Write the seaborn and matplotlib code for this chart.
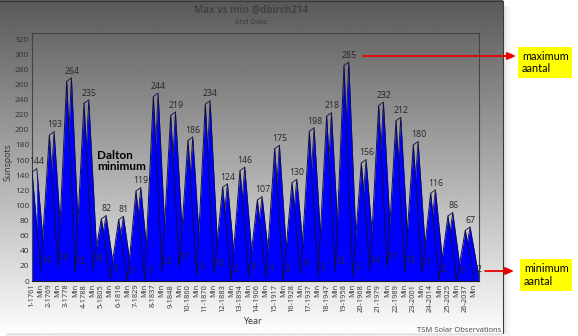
import numpy as np
import pandas as pd
import matplotlib
matplotlib.use("Agg")
import matplotlib.pyplot as plt
from matplotlib.patches import Rectangle
import seaborn as sns

# Solar cycle maxima (smoothed sunspot number) and the minimum that follows each
cycles = ["1-1761", "2-1769", "3-1778", "4-1788", "5-1805", "6-1816", "7-1829",
          "8-1837", "9-1848", "10-1860", "11-1870", "12-1883", "13-1894",
          "14-1906", "15-1917", "16-1928", "17-1937", "18-1947", "19-1958",
          "20-1968", "21-1979", "22-1989", "23-2001", "24-2014", "25-2025",
          "26-2037"]
max_values = [144, 193, 264, 235, 82, 81, 119, 244, 219, 186, 234, 124, 146,
              107, 175, 130, 198, 218, 285, 156, 232, 212, 180, 116, 86, 67]
min_values = [14, 18, 12, 16, 3, 0, 0, 12, 17, 6, 10, 2, 6,
              4, 2, 9, 5, 12, 5, 14, 17, 13, 11, 2, 0, 2]
y_ticks = list(range(0, 321, 20))

labels, values = [], []
for c, mx, mn in zip(cycles, max_values, min_values):
    labels += [c, "Min"]
    values += [mx, mn]
df = pd.DataFrame({"pos": np.arange(len(values)), "label": labels, "sunspots": values})

sns.set_style("white")
plt.rcParams["font.family"] = ["Open Sans", "DejaVu Sans"]

W, H = 578, 336
fig = plt.figure(figsize=(W / 100, H / 100), dpi=100)

# background layer in pixel coordinates
bg = fig.add_axes([0, 0, 1, 1])
bg.set_xlim(0, W)
bg.set_ylim(H, 0)
bg.axis("off")
# drop shadow of the chart panel
for i, a in enumerate([0.10, 0.07, 0.04, 0.02]):
    bg.add_patch(Rectangle((503 + i * 2, 6), 2, 333 - 6 + i * 2, color="black", alpha=a, lw=0))
    bg.add_patch(Rectangle((6, 333 + i * 2), 497 + i * 2, 2, color="black", alpha=a, lw=0))
grad = np.linspace(0.35, 0.99, 256).reshape(-1, 1)
bg.imshow(grad, cmap="gray", vmin=0, vmax=1, extent=[0, 503, 333, 0], aspect="auto", zorder=1)
bg.plot([0, 503, 503], [0.5, 0.5, 333], color="#3a3a3a", lw=0.8, zorder=2)

# main plot area
ax = fig.add_axes([32 / W, (H - 281) / H, (479 - 32) / W, (281 - 33) / H])
ax.patch.set_alpha(0)

x = df["pos"].to_numpy(dtype=float)
y = df["sunspots"].to_numpy(dtype=float)
dx, dy = 0.55, 4.5
blue = "#0000ff"
edge = "#101040"

# back face of the 3-D area, then the front face on top
ax.fill_between(x + dx, 0, y + dy, color=blue, lw=0, zorder=1)
ax.plot(x + dx, y + dy, color=edge, lw=0.6, zorder=1.5)
ax.fill_between(x, 0, y, color=blue, lw=0, zorder=2)
sns.lineplot(data=df, x="pos", y="sunspots", color=edge, lw=0.7, ax=ax, zorder=3)
for xi, yi in zip(x[::2], y[::2]):
    ax.plot([xi, xi + dx], [yi, yi + dy], color=edge, lw=0.6, zorder=3)

for xi, yi in zip(x, y):
    ax.text(xi + 0.6, yi + 13.5, f"{int(yi)}", ha="center", va="center",
            fontsize=6.3, color="#262626", zorder=5)

ax.set_xlim(0, len(x) - 1 + 0.58)
ax.set_ylim(0, 328)
ax.set_yticks(y_ticks)
ax.set_yticklabels([str(t) for t in y_ticks], fontsize=6, color="#333333")
ax.set_xticks(x)
ax.set_xticklabels(labels, rotation=90, fontsize=5.4, color="#333333")
ax.tick_params(length=0, pad=2)
ax.set_xlabel("")
ax.set_ylabel("")
for s in ax.spines.values():
    s.set_color("#444444")
    s.set_linewidth(0.8)
ax.spines["bottom"].set_color("#222222")

# titles and axis captions
fig.text(251 / W, 1 - 10 / H, "Max vs min @dbirch214", ha="center", va="center",
         fontsize=7, fontweight="bold", color="#424242")
fig.text(251 / W, 1 - 22 / H, "End Date", ha="center", va="center",
         fontsize=5.5, color="#3c3c3c")
fig.text(8 / W, 1 - 162 / H, "Sunspots", rotation=90, ha="center", va="center",
         fontsize=6.3, color="#333333")
fig.text(252 / W, 1 - 321 / H, "Year", ha="center", va="center",
         fontsize=6.5, color="#333333")
fig.text(459 / W, 1 - 330 / H, "TSM Solar Observations", ha="center", va="center",
         fontsize=5.5, color="#444444")
fig.text(97 / W, 1 - 161 / H, "Dalton\nminimum", ha="left", va="center",
         fontsize=8.5, fontweight="bold", color="black", linespacing=1.1,
         family=["Lato", "DejaVu Sans"])

# highlighted notes with arrows
for (x0, y0, w, h, txt) in [(518, 47, 54, 31, "maximum\naantal"),
                            (520, 259, 52, 32, "minimum\naantal")]:
    bg.add_patch(Rectangle((x0, y0), w, h, color="#ffff00", lw=0, zorder=3))
    bg.text(x0 + 4, y0 + h / 2, txt, ha="left", va="center", fontsize=7.8,
            color="black", linespacing=1.15, family=["Lato", "DejaVu Sans"], zorder=4)

for (x0, x1, yy) in [(363, 516, 56), (485, 514, 271)]:
    bg.annotate("", xy=(x1, yy), xytext=(x0, yy),
                arrowprops=dict(arrowstyle="-|>,head_length=0.5,head_width=0.22",
                                color="#ee0000", lw=1.3, shrinkA=0, shrinkB=0),
                zorder=6, annotation_clip=False)

fig.savefig("out.png", dpi=100)
